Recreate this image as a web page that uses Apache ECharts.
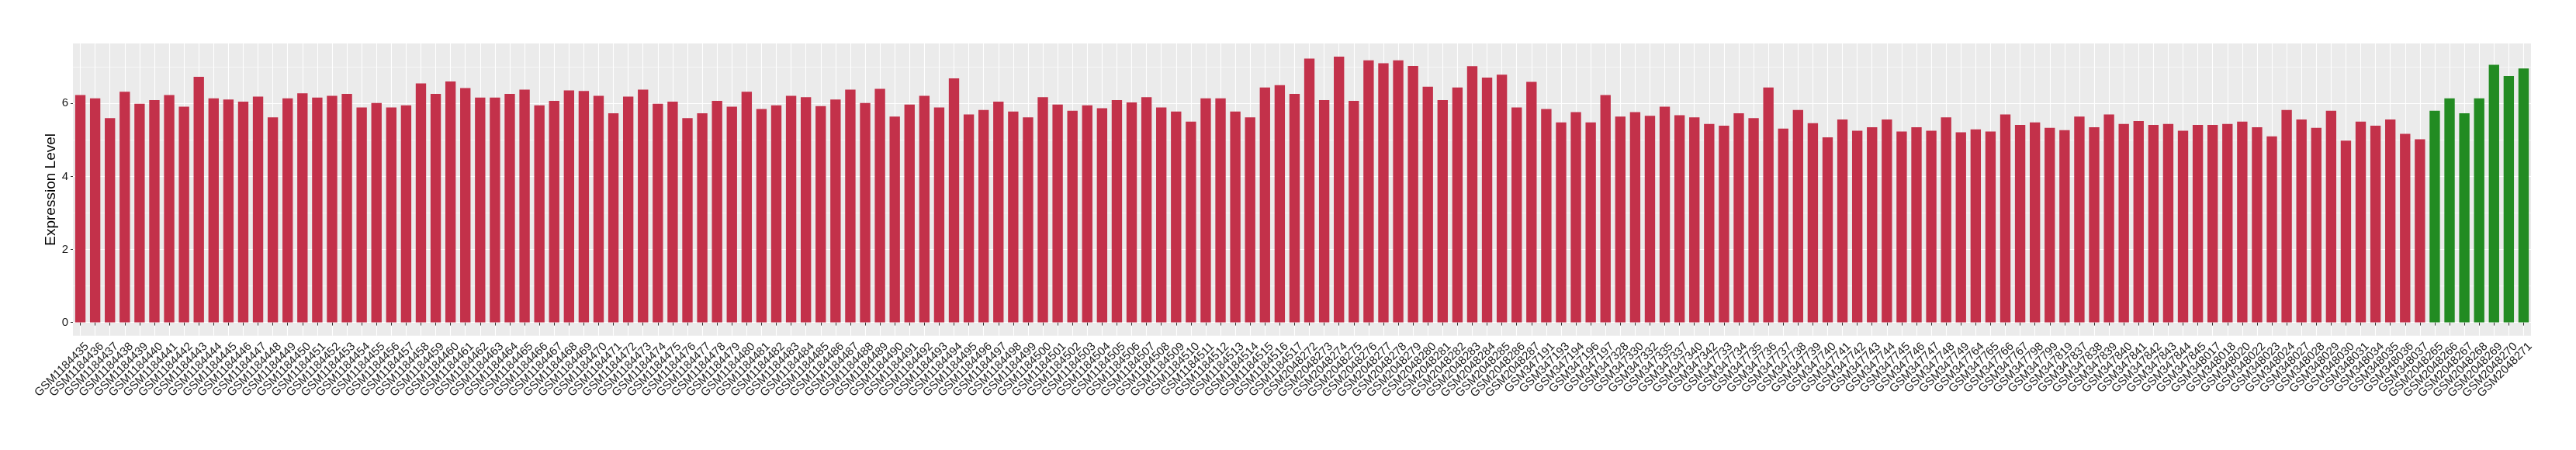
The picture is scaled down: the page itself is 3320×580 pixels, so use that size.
<!DOCTYPE html>
<html>
<head>
<meta charset="utf-8">
<script src="https://cdn.jsdelivr.net/npm/echarts@6/dist/echarts.min.js"></script>
<style>
html,body{margin:0;padding:0;background:#ffffff;}
#chart{width:3320px;height:580px;}
</style>
</head>
<body>
<div id="chart"></div>
<script>
// ---- data ----
const categories = [
  'GSM1184435','GSM1184436','GSM1184437','GSM1184438','GSM1184439','GSM1184440','GSM1184441','GSM1184442','GSM1184443','GSM1184444',
  'GSM1184445','GSM1184446','GSM1184447','GSM1184448','GSM1184449','GSM1184450','GSM1184451','GSM1184452','GSM1184453','GSM1184454',
  'GSM1184455','GSM1184456','GSM1184457','GSM1184458','GSM1184459','GSM1184460','GSM1184461','GSM1184462','GSM1184463','GSM1184464',
  'GSM1184465','GSM1184466','GSM1184467','GSM1184468','GSM1184469','GSM1184470','GSM1184471','GSM1184472','GSM1184473','GSM1184474',
  'GSM1184475','GSM1184476','GSM1184477','GSM1184478','GSM1184479','GSM1184480','GSM1184481','GSM1184482','GSM1184483','GSM1184484',
  'GSM1184485','GSM1184486','GSM1184487','GSM1184488','GSM1184489','GSM1184490','GSM1184491','GSM1184492','GSM1184493','GSM1184494',
  'GSM1184495','GSM1184496','GSM1184497','GSM1184498','GSM1184499','GSM1184500','GSM1184501','GSM1184502','GSM1184503','GSM1184504',
  'GSM1184505','GSM1184506','GSM1184507','GSM1184508','GSM1184509','GSM1184510','GSM1184511','GSM1184512','GSM1184513','GSM1184514',
  'GSM1184515','GSM1184516','GSM1184517',
  'GSM2048272','GSM2048273','GSM2048274','GSM2048275','GSM2048276','GSM2048277','GSM2048278','GSM2048279','GSM2048280','GSM2048281',
  'GSM2048282','GSM2048283','GSM2048284','GSM2048285','GSM2048286','GSM2048287',
  'GSM347191','GSM347193','GSM347194','GSM347196','GSM347197','GSM347328','GSM347330','GSM347332','GSM347335','GSM347337',
  'GSM347340','GSM347342',
  'GSM347733','GSM347734','GSM347735','GSM347736','GSM347737','GSM347738','GSM347739','GSM347740','GSM347741','GSM347742',
  'GSM347743','GSM347744','GSM347745','GSM347746','GSM347747','GSM347748','GSM347749',
  'GSM347764','GSM347765','GSM347766','GSM347767','GSM347798','GSM347799','GSM347819',
  'GSM347837','GSM347838','GSM347839','GSM347840','GSM347841','GSM347842','GSM347843','GSM347844','GSM347845',
  'GSM348017','GSM348018','GSM348020','GSM348022','GSM348023','GSM348024','GSM348027','GSM348028','GSM348029','GSM348030',
  'GSM348031','GSM348034','GSM348035','GSM348036','GSM348037',
  'GSM2048265','GSM2048266','GSM2048267','GSM2048268','GSM2048269','GSM2048270','GSM2048271'
];

const expression = [
  6.23, 6.14, 5.60, 6.32, 5.99, 6.09, 6.23, 5.91, 6.73, 6.14,
  6.11, 6.05, 6.19, 5.62, 6.14, 6.28, 6.16, 6.21, 6.26, 5.89, 6.01, 5.89, 5.95, 6.55,
  6.26, 6.60, 6.42, 6.16, 6.16, 6.26, 6.38, 5.95, 6.07, 6.36, 6.34, 6.21, 5.73, 6.19,
  6.38, 5.99, 6.05, 5.60, 5.73, 6.07, 5.91, 6.32, 5.85, 5.95, 6.21, 6.17, 5.93, 6.11,
  6.38, 6.01, 6.40, 5.64, 5.97, 6.21, 5.89, 6.69, 5.70, 5.82, 6.05, 5.78, 5.62, 6.17, 5.97,
  5.80, 5.95, 5.87, 6.09, 6.03, 6.17, 5.89, 5.78, 5.50, 6.14, 6.14, 5.78, 5.62, 6.44,
  6.50, 6.26, 7.23, 6.09, 7.28, 6.07, 7.18, 7.10, 7.18, 7.03, 6.46, 6.09, 6.44, 7.02,
  6.71, 6.79, 5.89, 6.59, 5.85, 5.48, 5.76, 5.48, 6.23, 5.64, 5.76, 5.66, 5.91, 5.68,
  5.62, 5.44, 5.39, 5.73, 5.60, 6.44, 5.31, 5.82, 5.46, 5.07, 5.56, 5.25, 5.35, 5.56,
  5.23, 5.35, 5.25, 5.62, 5.21, 5.29, 5.23, 5.70, 5.41, 5.48, 5.33, 5.27, 5.64, 5.35,
  5.70, 5.44, 5.52, 5.41, 5.44, 5.25, 5.41, 5.41, 5.44, 5.50, 5.35, 5.10, 5.82, 5.56, 5.33,
  5.80, 4.98, 5.50, 5.39, 5.56, 5.17, 5.02,
  5.80, 6.14, 5.73, 6.14, 7.06, 6.75, 6.96
];

// the last samples form the second (green) group
const secondGroupCount = 7;
const groupColors = ['#C3314A', '#228B22'];

const yMajorTicks = [0, 2, 4, 6];
const yMinorTicks = [1, 3, 5, 7];
const yTitle = 'Expression Level';

// ---- chart ----
const firstGroupCount = categories.length - secondGroupCount;
const barData = expression.map((v, i) => ({
  value: v,
  itemStyle: { color: i < firstGroupCount ? groupColors[0] : groupColors[1] }
}));

const chart = echarts.init(document.getElementById('chart'), null, { renderer: 'canvas' });
const FONT = 'Liberation Sans, Arial, Helvetica, sans-serif';

chart.setOption({
  animation: false,
  backgroundColor: '#ffffff',
  grid: {
    left: 94, right: 58, top: 56, bottom: 147.3,
    show: true, backgroundColor: '#EBEBEB', borderWidth: 0,
    outerBoundsMode: 'none'
  },
  xAxis: {
    type: 'category',
    data: categories,
    boundaryGap: true,
    axisLine: { show: false },
    axisTick: { show: true, alignWithLabel: true, interval: 0, length: 4, lineStyle: { color: '#333333', width: 1 } },
    splitLine: { show: true, interval: 0, alignWithLabel: true, lineStyle: { color: '#ffffff', width: 1.1 } },
    axisLabel: {
      interval: 0, rotate: 45, margin: 20, fontSize: 15, fontFamily: FONT, color: '#1a1a1a',
      padding: [0, -12, 0, 0]
    }
  },
  yAxis: [
    {
      type: 'value', min: -0.364, max: 7.644,
      name: yTitle, nameLocation: 'middle', nameGap: 19, nameMoveOverlap: false,
      nameTextStyle: { fontSize: 19, fontFamily: FONT, color: '#000000' },
      axisLine: { show: false },
      axisTick: { show: true, length: 3, customValues: yMajorTicks, lineStyle: { color: '#333333' } },
      axisLabel: { show: true, customValues: yMajorTicks, fontSize: 15, fontFamily: FONT, color: '#1a1a1a', margin: 6 },
      splitLine: { show: true, lineStyle: { color: '#ffffff', width: 1.1 } }
    },
    {
      type: 'value', min: -0.364, max: 7.644,
      axisLine: { show: false },
      axisTick: { show: false, customValues: yMinorTicks },
      axisLabel: { show: false, customValues: yMinorTicks },
      splitLine: { show: true, lineStyle: { color: '#ffffff', width: 0.55 } }
    }
  ],
  series: [{
    type: 'bar',
    data: barData,
    barCategoryGap: '30%',
    yAxisIndex: 0
  }]
});
</script>
</body>
</html>
